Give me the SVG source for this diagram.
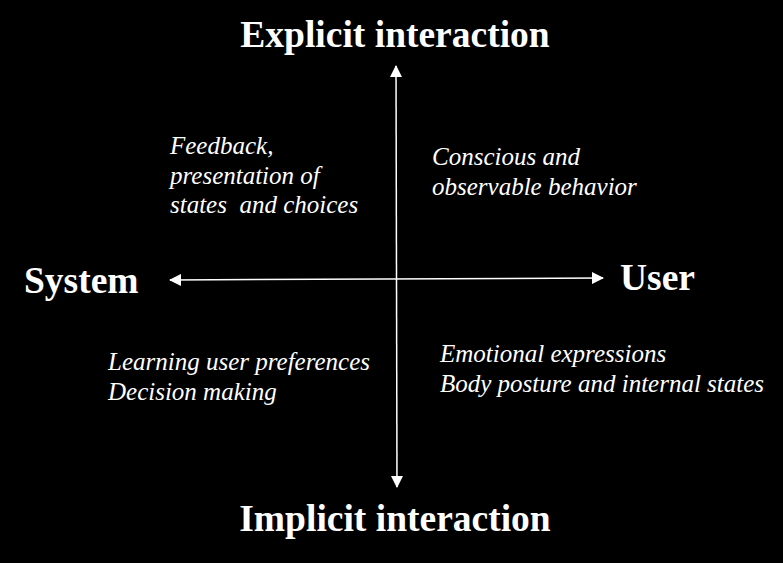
<svg xmlns="http://www.w3.org/2000/svg" width="783" height="563" viewBox="0 0 783 563">
<style>
.t{font-family:"Liberation Serif","Times New Roman",serif;fill:#fff;}
.b{font-weight:bold;font-size:37.5px;}
.i{font-style:italic;font-size:25px;white-space:pre;}
.ax{stroke:#fff;stroke-width:1.5;fill:none;}
</style>
<defs>
<marker id="ah" viewBox="0 0 12 12" refX="11" refY="6" markerWidth="12" markerHeight="12" markerUnits="userSpaceOnUse" orient="auto-start-reverse">
<path d="M0,0 L12,6 L0,12 Z" fill="#fff"/>
</marker>
</defs>
<rect width="783" height="563" fill="#000"/>
<g id="connectors">
<line class="ax" x1="170" y1="280" x2="603" y2="278" marker-start="url(#ah)" marker-end="url(#ah)"/>
<line class="ax" x1="396" y1="66" x2="397" y2="487" marker-start="url(#ah)" marker-end="url(#ah)"/>
</g>
<g id="explicit"><text class="t b" x="395" y="47" text-anchor="middle">Explicit interaction</text></g>
<g id="implicit"><text class="t b" x="395" y="531" text-anchor="middle">Implicit interaction</text></g>
<g id="system"><text class="t b" x="24" y="293">System</text></g>
<g id="user"><text class="t b" x="620" y="290">User</text></g>
<g id="q1"><text class="t i" x="170" y="154">Feedback,</text><text class="t i" x="170" y="184">presentation of</text><text class="t i" x="170" y="213">states  and choices</text></g>
<g id="q2"><text class="t i" x="432" y="165">Conscious and</text><text class="t i" x="432" y="195">observable behavior</text></g>
<g id="q3"><text class="t i" x="108" y="370">Learning user preferences</text><text class="t i" x="108" y="400">Decision making</text></g>
<g id="q4"><text class="t i" x="440" y="362">Emotional expressions</text><text class="t i" x="440" y="392">Body posture and internal states</text></g>
</svg>
